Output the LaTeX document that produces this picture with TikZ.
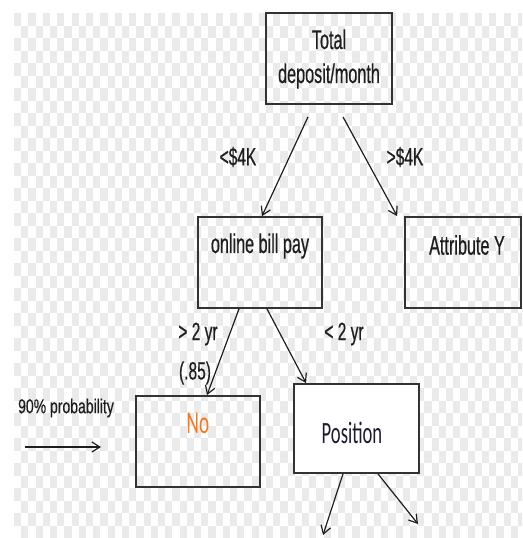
\documentclass[tikz,border=0pt]{standalone}
\usepackage{fontspec}
\usetikzlibrary{arrows.meta}
\newfontfamily\narrowsans[FakeStretch=0.6,FakeBold=0.5]{Liberation Sans}
\newfontfamily\labelsans[FakeStretch=0.62,FakeBold=0.5]{Liberation Sans}
\newfontfamily\notesans[FakeStretch=0.7,FakeBold=0.4]{Liberation Sans}
\newfontfamily\narrowcal[FakeStretch=0.6]{Carlito}
\definecolor{ink}{HTML}{1E1E1E}
\definecolor{boxline}{HTML}{333333}
\definecolor{checker}{HTML}{EAEAEA}
\definecolor{leaforange}{HTML}{F07A20}
\definecolor{navyink}{HTML}{1C1C30}
\tikzset{
  treebox/.style={draw=boxline, line width=1.8pt, rectangle, inner sep=0pt},
  boxtext/.style={text=ink, font=\narrowsans\fontsize{27}{34}\selectfont, inner sep=0pt, align=center},
  edgelabel/.style={text=ink, font=\labelsans\fontsize{25}{28}\selectfont, inner sep=0pt},
  branch/.style={draw=ink, line width=1.2pt, -{Straight Barb[length=8pt,width=10pt,line width=1.2pt]}}
}
\begin{document}
\begin{tikzpicture}[x=1pt, y=-1pt]
  \useasboundingbox (0,0) rectangle (522,538);
  % faint checkered backdrop
  \begin{scope}
    \clip (14,13) rectangle (522,538);
    \foreach \j in {0,...,41}{
      \foreach \i in {0,...,35}{
        \fill[checker] ({14+14.4*\i+7.2*mod(\j,2)},{13+12.5*\j}) rectangle ++(7.2,12.5);
      }
    }
  \end{scope}

  % boxes
  \node[treebox, minimum width=126pt, minimum height=91pt] (total) at (329,58.5) {};
  \node[treebox, minimum width=124pt, minimum height=91pt] (online) at (260,262.5) {};
  \node[treebox, minimum width=116pt, minimum height=91pt] (attr) at (463,262.5) {};
  \node[treebox, minimum width=124pt, minimum height=91pt] (no) at (198,441.5) {};
  \node[treebox, minimum width=125pt, minimum height=89pt, fill=white] (pos) at (356.5,428.5) {};

  % box texts
  \node[boxtext] (total-text) at (329,59) {Total\\deposit/month};
  \node[boxtext] (online-text) at (260,246) {online bill pay};
  \node[boxtext] (attr-text) at (467,245) {Attribute Y};
  \node[text=leaforange, font=\narrowcal\fontsize{32}{32}\selectfont, inner sep=0pt] (no-text) at (198,423) {No};
  \node[text=navyink, font=\narrowcal\fontsize{31}{31}\selectfont, inner sep=0pt] (pos-text) at (352,433) {Position};

  % branch labels
  \node[edgelabel] (lt4k) at (238,157) {<\$4K};
  \node[edgelabel] (gt4k) at (405,157) {>\$4K};
  \node[edgelabel] (gt2) at (198,334) {> 2 yr};
  \node[edgelabel] (p85) at (195,373) {(.85)};
  \node[edgelabel] (lt2) at (344,334) {< 2 yr};

  % side note with its arrow
  \node[text=ink, font=\notesans\fontsize{20}{22}\selectfont, inner sep=0pt] (prob) at (66,408) {90\% probability};
  \coordinate (probtail) at (25,447);
  \coordinate (probhead) at (101,447);
  \draw[branch] (probtail) -- (probhead);

  % branches
  \draw[branch] ([xshift=-21pt,yshift=-12pt]total.south) -- ([xshift=2pt]online.north);
  \draw[branch] ([xshift=14pt,yshift=-12pt]total.south) -- ([xshift=-7pt]attr.north west);
  \draw[branch] ([xshift=-21pt]online.south) -- ([xshift=9pt]no.north);
  \draw[branch] ([xshift=7pt]online.south) -- ([xshift=13pt]pos.north west);
  \coordinate (posleft) at (323,535);
  \coordinate (posright) at (418,524);
  \draw[branch] ([xshift=-13.5pt]pos.south) -- (posleft);
  \draw[branch] ([xshift=21.5pt]pos.south) -- (posright);
\end{tikzpicture}
\end{document}
